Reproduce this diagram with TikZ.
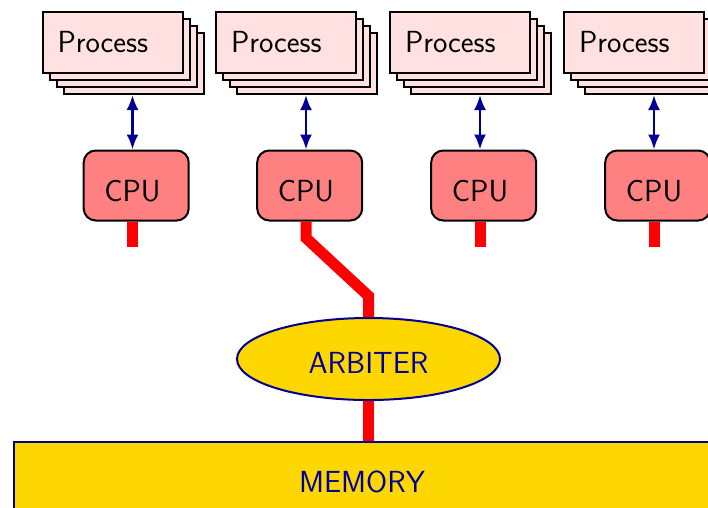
\documentclass[tikz,border=0pt]{standalone}
\usetikzlibrary{arrows.meta,shapes.geometric,backgrounds}
\definecolor{procfill}{RGB}{255,225,225}
\definecolor{cpufill}{RGB}{255,128,128}
\definecolor{arbfill}{RGB}{255,215,0}
\definecolor{navyline}{RGB}{0,0,150}
\begin{document}
\begin{tikzpicture}[x=1pt,y=-1pt,
  font=\sffamily\fontsize{30.5}{36}\selectfont,
  procbox/.style={draw=black,line width=2pt,fill=procfill,minimum width=140pt,minimum height=61pt,
    inner sep=0pt,text width=110pt,align=left},
  proccopy/.style={draw=black,line width=2pt,fill=procfill},
  cpubox/.style={draw=black,line width=2pt,fill=cpufill,rounded corners=12pt,
    minimum width=105pt,minimum height=70pt,inner sep=0pt,text height=31pt,text depth=0pt},
  link/.style={navyline,line width=2.5pt,{Latex[length=15pt,width=12pt]}-{Latex[length=15pt,width=12pt]}},
  wire/.style={red,line width=11pt,line cap=butt,line join=miter}]
\useasboundingbox (0,0) rectangle (708,507);

% four process stacks, each with its CPU below
\foreach \i/\cx in {1/132.5,2/306,3/480,4/654}{
  \foreach \d in {21,14,7}{
    \draw[proccopy] (\cx-90+\d,12+\d) rectangle (\cx+50+\d,73+\d);
  }
  \node[procbox] (p\i) at (\cx-20,42.5) {Process};
  \node[cpubox] (c\i) at (\cx+3.7,185.5) {CPU\hspace*{7.4pt}};
  \coordinate (s\i) at (\cx,95);
  \coordinate (b\i) at (\cx,246.5);
  \draw[link] (s\i) -- (c\i.north -| s\i);
}

% arbiter and memory
\node[ellipse,draw=navyline,line width=2pt,fill=arbfill,text=navyline,
  minimum width=263pt,minimum height=82pt,inner sep=0pt,text height=29pt,text depth=0pt] (arb) at (368.5,359) {ARBITER};
\node[rectangle,draw=navyline,line width=2pt,fill=arbfill,text=navyline,
  minimum width=696pt,minimum height=80pt,inner sep=0pt] (mem) at (362,482) {MEMORY};

% bus wires
\draw[wire] (c1.south -| b1) -- (b1);
\draw[wire] (c3.south -| b3) -- (b3);
\draw[wire] (c4.south -| b4) -- (b4);
\draw[wire] (c2.south -| b2) -- (306,238) -- (368.5,296) -- (arb.north);
\draw[wire] (arb.south) -- (arb.south |- mem.north);
\end{tikzpicture}
\end{document}
